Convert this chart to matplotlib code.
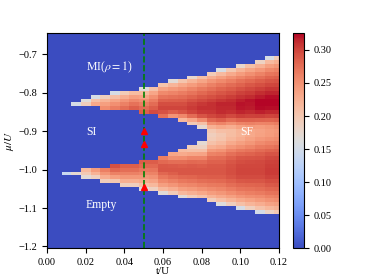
import numpy as np
import matplotlib
matplotlib.use('Agg')
import matplotlib.pyplot as plt

plt.rcParams['font.family'] = 'serif'
plt.rcParams['font.serif'] = ['Liberation Serif', 'DejaVu Serif']
plt.rcParams['mathtext.fontset'] = 'stix'

nan = np.nan

# grid: t/U columns and mu/U rows
t_vals = np.round(np.arange(25) * 0.005, 4)
mu_vals = np.round(-1.2 + np.arange(56) * 0.01, 3)

# band edges per column
# for closed columns (t >= 0.085) si_top = si_bot = valley position
mi_edge = [nan, nan, nan, -0.821, -0.816, -0.809, -0.804, -0.799, -0.794, -0.791, -0.788, -0.781, -0.773,
           -0.768, -0.762, -0.757, -0.751, -0.744, -0.739, -0.733, -0.727, -0.721, -0.716, -0.709, -0.704]
si_top = [nan, nan, nan, -0.835, -0.835, -0.835, -0.845, -0.845, -0.845, -0.845, -0.855, -0.855, -0.865,
          -0.865, -0.875, -0.885, -0.895, -0.91, -0.91, -0.905, -0.905, -0.905, -0.90, -0.90, -0.90]
si_bot = [nan, nan, -1.005, -1.005, -0.995, -0.995, -0.995, -0.985, -0.985, -0.985, -0.975, -0.975, -0.965,
          -0.955, -0.945, -0.935, -0.925, -0.91, -0.91, -0.905, -0.905, -0.905, -0.90, -0.90, -0.90]
empty_edge = [nan, nan, -1.015, -1.015, -1.025, -1.025, -1.035, -1.035, -1.045, -1.045, -1.052, -1.056, -1.062,
              -1.066, -1.072, -1.076, -1.079, -1.086, -1.092, -1.096, -1.101, -1.106, -1.111, -1.115, -1.119]

# order parameter levels per column
up_peak_mu = [nan, nan, nan, -0.835, -0.835, -0.835, -0.845, -0.845, -0.845, -0.845, -0.855, -0.855, -0.835,
              -0.835, -0.835, -0.835, -0.835, -0.83, -0.83, -0.825, -0.825, -0.82, -0.82, -0.815, -0.815]
up_peak = [nan, nan, nan, 0.16, 0.20, 0.24, 0.26, 0.27, 0.28, 0.29, 0.29, 0.30, 0.30,
           0.30, 0.30, 0.305, 0.31, 0.31, 0.315, 0.315, 0.32, 0.32, 0.325, 0.325, 0.325]
up_si = [nan, nan, nan, 0.16, 0.20, 0.24, 0.26, 0.27, 0.28, 0.29, 0.29, 0.30, 0.27,
         0.24, 0.21, 0.19, 0.17, 0.19, 0.20, 0.21, 0.22, 0.23, 0.235, 0.24, 0.245]
lo_peak_mu = [nan, nan, -1.005, -1.005, -0.995, -0.995, -0.995, -0.985, -0.985, -0.985, -0.975, -0.975, -1.0,
              -1.005, -1.01, -1.01, -1.015, -1.015, -1.015, -1.015, -1.015, -1.015, -1.015, -1.015, -1.015]
lo_peak = [nan, nan, 0.15, 0.19, 0.22, 0.25, 0.27, 0.30, 0.29, 0.29, 0.29, 0.29, 0.29,
           0.29, 0.29, 0.29, 0.29, 0.29, 0.29, 0.295, 0.30, 0.30, 0.30, 0.305, 0.305]
lo_si = [nan, nan, 0.15, 0.19, 0.22, 0.25, 0.27, 0.30, 0.29, 0.29, 0.29, 0.29, 0.26,
         0.23, 0.21, 0.19, 0.17, 0.19, 0.20, 0.21, 0.22, 0.23, 0.235, 0.24, 0.245]
EDGE = 0.10
RISE = 0.3

t_cut = 0.05
tri_mu = [-0.900, -0.932, -1.045]


def toward(p, s, f):
    w = ((1 - np.cos(np.pi * f)) / 2) ** 2
    return p + (s - p) * w


Z = np.zeros((len(mu_vals), len(t_vals)))
for k in range(len(t_vals)):
    for i, mu in enumerate(mu_vals):
        if not np.isnan(mi_edge[k]) and si_top[k] <= mu < mi_edge[k]:
            if mu >= up_peak_mu[k]:
                f = (mi_edge[k] - mu) / (mi_edge[k] - up_peak_mu[k])
                Z[i, k] = EDGE + (up_peak[k] - EDGE) * min(f, 1) ** RISE
            else:
                f = (up_peak_mu[k] - mu) / (up_peak_mu[k] - si_top[k])
                Z[i, k] = toward(up_peak[k], up_si[k], f)
        elif not np.isnan(si_bot[k]) and empty_edge[k] < mu < si_bot[k]:
            if mu <= lo_peak_mu[k]:
                f = (mu - empty_edge[k]) / (lo_peak_mu[k] - empty_edge[k])
                Z[i, k] = EDGE + (lo_peak[k] - EDGE) * min(f, 1) ** RISE
            else:
                f = (mu - lo_peak_mu[k]) / (si_bot[k] - lo_peak_mu[k])
                Z[i, k] = toward(lo_peak[k], lo_si[k], f)

fig = plt.figure(figsize=(3.74, 2.8), dpi=100)
ax = fig.add_axes([0.126, 0.113, 0.62, 0.768])
cax = fig.add_axes([0.783, 0.113, 0.0294, 0.768])

mesh = ax.pcolormesh(t_vals, mu_vals, Z, cmap='coolwarm', shading='nearest', vmin=0, vmax=0.325)
ax.set_xlim(0, 0.12)
ax.set_ylim(-1.205, -0.645)
ax.axvline(t_cut, color='green', linestyle='--', linewidth=1.2)
ax.plot([t_cut] * len(tri_mu), tri_mu, 'r^', markersize=5)

ax.set_xticks(np.arange(0, 0.121, 0.02))
ax.set_xticklabels(['%.2f' % v for v in np.arange(0, 0.121, 0.02)])
ax.set_yticks([-1.2, -1.1, -1.0, -0.9, -0.8, -0.7])
ax.tick_params(labelsize=7.5)
ax.set_xlabel('t/U', fontsize=8, labelpad=0)
ax.set_ylabel(r'$\mu/U$', fontsize=8, labelpad=2)

ax.text(0.020, -0.733, r'MI($\rho=1$)', color='white', fontsize=8.5, va='center')
ax.text(0.020, -0.902, 'SI', color='white', fontsize=8.5, va='center')
ax.text(0.100, -0.902, 'SF', color='white', fontsize=8.5, va='center')
ax.text(0.020, -1.092, 'Empty', color='white', fontsize=8.5, va='center')

cb = fig.colorbar(mesh, cax=cax)
cb.set_ticks([0.0, 0.05, 0.10, 0.15, 0.20, 0.25, 0.30])
cb.ax.set_yticklabels(['%.2f' % v for v in [0.0, 0.05, 0.10, 0.15, 0.20, 0.25, 0.30]])
cb.ax.tick_params(labelsize=7.5)

fig.savefig('out.png', dpi=100)
